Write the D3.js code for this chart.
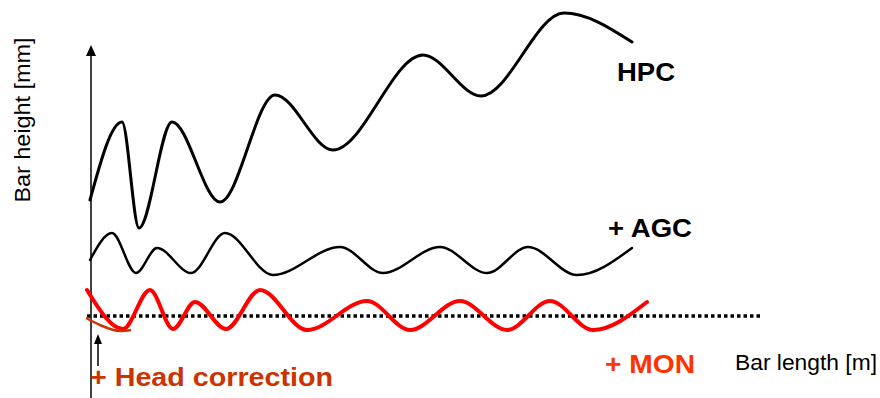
<!DOCTYPE html>
<html>
<head>
<meta charset="utf-8">
<script src="https://cdn.jsdelivr.net/npm/d3@7"></script>
<style>
  html, body { margin: 0; padding: 0; background: #fff; }
  svg { display: block; }
</style>
</head>
<body>
<svg id="chart" width="880" height="398"></svg>
<script>
// Data (units: bar length on x, bar height on y; baseline = dotted reference line at 0)
const hpcX = [-0.1, 3.1, 4.8, 8.1, 12.9, 18.4, 24.2, 33.2, 39.0, 47.3, 54.1];
const hpcY = [11.6, 19.4, 8.8, 19.4, 11.4, 22.1, 16.6, 26.1, 22.0, 30.3, 27.4];

const agcX = [-0.1, 2.1, 4.5, 6.6, 10.0, 13.4, 18.2, 24.9, 29.2, 34.9, 39.6, 43.7, 48.6, 54.1];
const agcY = [5.6, 8.3, 4.3, 6.8, 4.3, 8.3, 4.1, 6.9, 4.3, 6.9, 4.3, 6.9, 4.1, 6.8];

const monX = [-0.4, 3.2, 5.9, 8.2, 10.4, 13.5, 16.9, 21.6, 27.6, 31.9, 36.9, 41.6, 45.9, 50.2, 55.6];
const monY = [2.6, -1.3, 2.6, -1.3, 1.4, -1.3, 2.6, -1.4, 1.5, -1.4, 1.5, -1.4, 1.5, -1.4, 1.4];

const headX = [-0.5, 0.9, 2.9, 4.0];
const headY = [-0.2, -0.9, -1.5, -1.4];

const refLine = [-0.4, 67.1]; // dotted zero line extent

const labels = [
  { text: "HPC", x: 52.6, y: 23.5, size: 26, weight: "bold", color: "#000", len: 58 },
  { text: "+ AGC", x: 51.7, y: 7.9, size: 26, weight: "bold", color: "#000", len: 84 },
  { text: "+ MON", x: 51.4, y: -5.7, size: 26, weight: "bold", color: "#ff3300", len: 90 },
  { text: "+ Head correction", x: -0.1, y: -7.0, size: 26, weight: "bold", color: "#cc3300", len: 243 },
  { text: "Bar length [m]", x: 64.4, y: -5.4, size: 22, weight: "normal", color: "#000", len: 142 }
];
const yAxisLabel = "Bar height [mm]";

// Scales
const x = d3.scaleLinear().domain([0, 67.1]).range([91, 762]);
const y = d3.scaleLinear().domain([0, 30]).range([316, 16]);

const svg = d3.select("#chart");
svg.append("rect").attr("width", 880).attr("height", 398).attr("fill", "#fff");

const font = "'Liberation Sans', Arial, Helvetica, sans-serif";

// Y axis with arrow
svg.append("line")
  .attr("x1", x(0)).attr("x2", x(0))
  .attr("y1", 54).attr("y2", 398)
  .attr("stroke", "#000").attr("stroke-width", 1.5);
svg.append("path")
  .attr("d", `M${x(0)},45 L${x(0) - 5},56 L${x(0) + 5},56 Z`)
  .attr("fill", "#000");

// Dotted reference line
svg.append("line")
  .attr("x1", x(refLine[0])).attr("x2", x(refLine[1]))
  .attr("y1", y(0)).attr("y2", y(0))
  .attr("stroke", "#000").attr("stroke-width", 3.5)
  .attr("stroke-dasharray", "3.5,3");

const lineGen = d3.line().x(d => x(d[0])).y(d => y(d[1])).curve(d3.curveMonotoneX);
const zipped = (xs, ys) => xs.map((v, i) => [v, ys[i]]);

svg.append("path").datum(zipped(hpcX, hpcY))
  .attr("d", lineGen).attr("fill", "none")
  .attr("stroke", "#000").attr("stroke-width", 3).attr("stroke-linecap", "round");

svg.append("path").datum(zipped(agcX, agcY))
  .attr("d", lineGen).attr("fill", "none")
  .attr("stroke", "#000").attr("stroke-width", 2.5).attr("stroke-linecap", "round");

svg.append("path").datum(zipped(monX, monY))
  .attr("d", lineGen).attr("fill", "none")
  .attr("stroke", "#ff0000").attr("stroke-width", 4).attr("stroke-linecap", "round");

svg.append("path").datum(zipped(headX, headY))
  .attr("d", lineGen).attr("fill", "none")
  .attr("stroke", "#cc3300").attr("stroke-width", 2.5);

// Small arrow pointing to head correction
const ax = x(0.7);
svg.append("line")
  .attr("x1", ax).attr("x2", ax)
  .attr("y1", 342).attr("y2", 366)
  .attr("stroke", "#000").attr("stroke-width", 1.5);
svg.append("path")
  .attr("d", `M${ax},334 L${ax - 4},344 L${ax + 4},344 Z`)
  .attr("fill", "#000");

// Labels
svg.selectAll("text.lbl").data(labels).enter().append("text")
  .attr("class", "lbl")
  .attr("x", d => x(d.x)).attr("y", d => y(d.y))
  .attr("font-family", font)
  .attr("font-size", d => d.size)
  .attr("font-weight", d => d.weight)
  .attr("fill", d => d.color)
  .attr("textLength", d => d.len)
  .attr("lengthAdjust", "spacingAndGlyphs")
  .text(d => d.text);

svg.append("text")
  .attr("transform", "translate(30,120) rotate(-90)")
  .attr("text-anchor", "middle")
  .attr("font-family", font)
  .attr("font-size", 22)
  .attr("fill", "#000")
  .attr("textLength", 165)
  .attr("lengthAdjust", "spacingAndGlyphs")
  .text(yAxisLabel);
</script>
</body>
</html>
